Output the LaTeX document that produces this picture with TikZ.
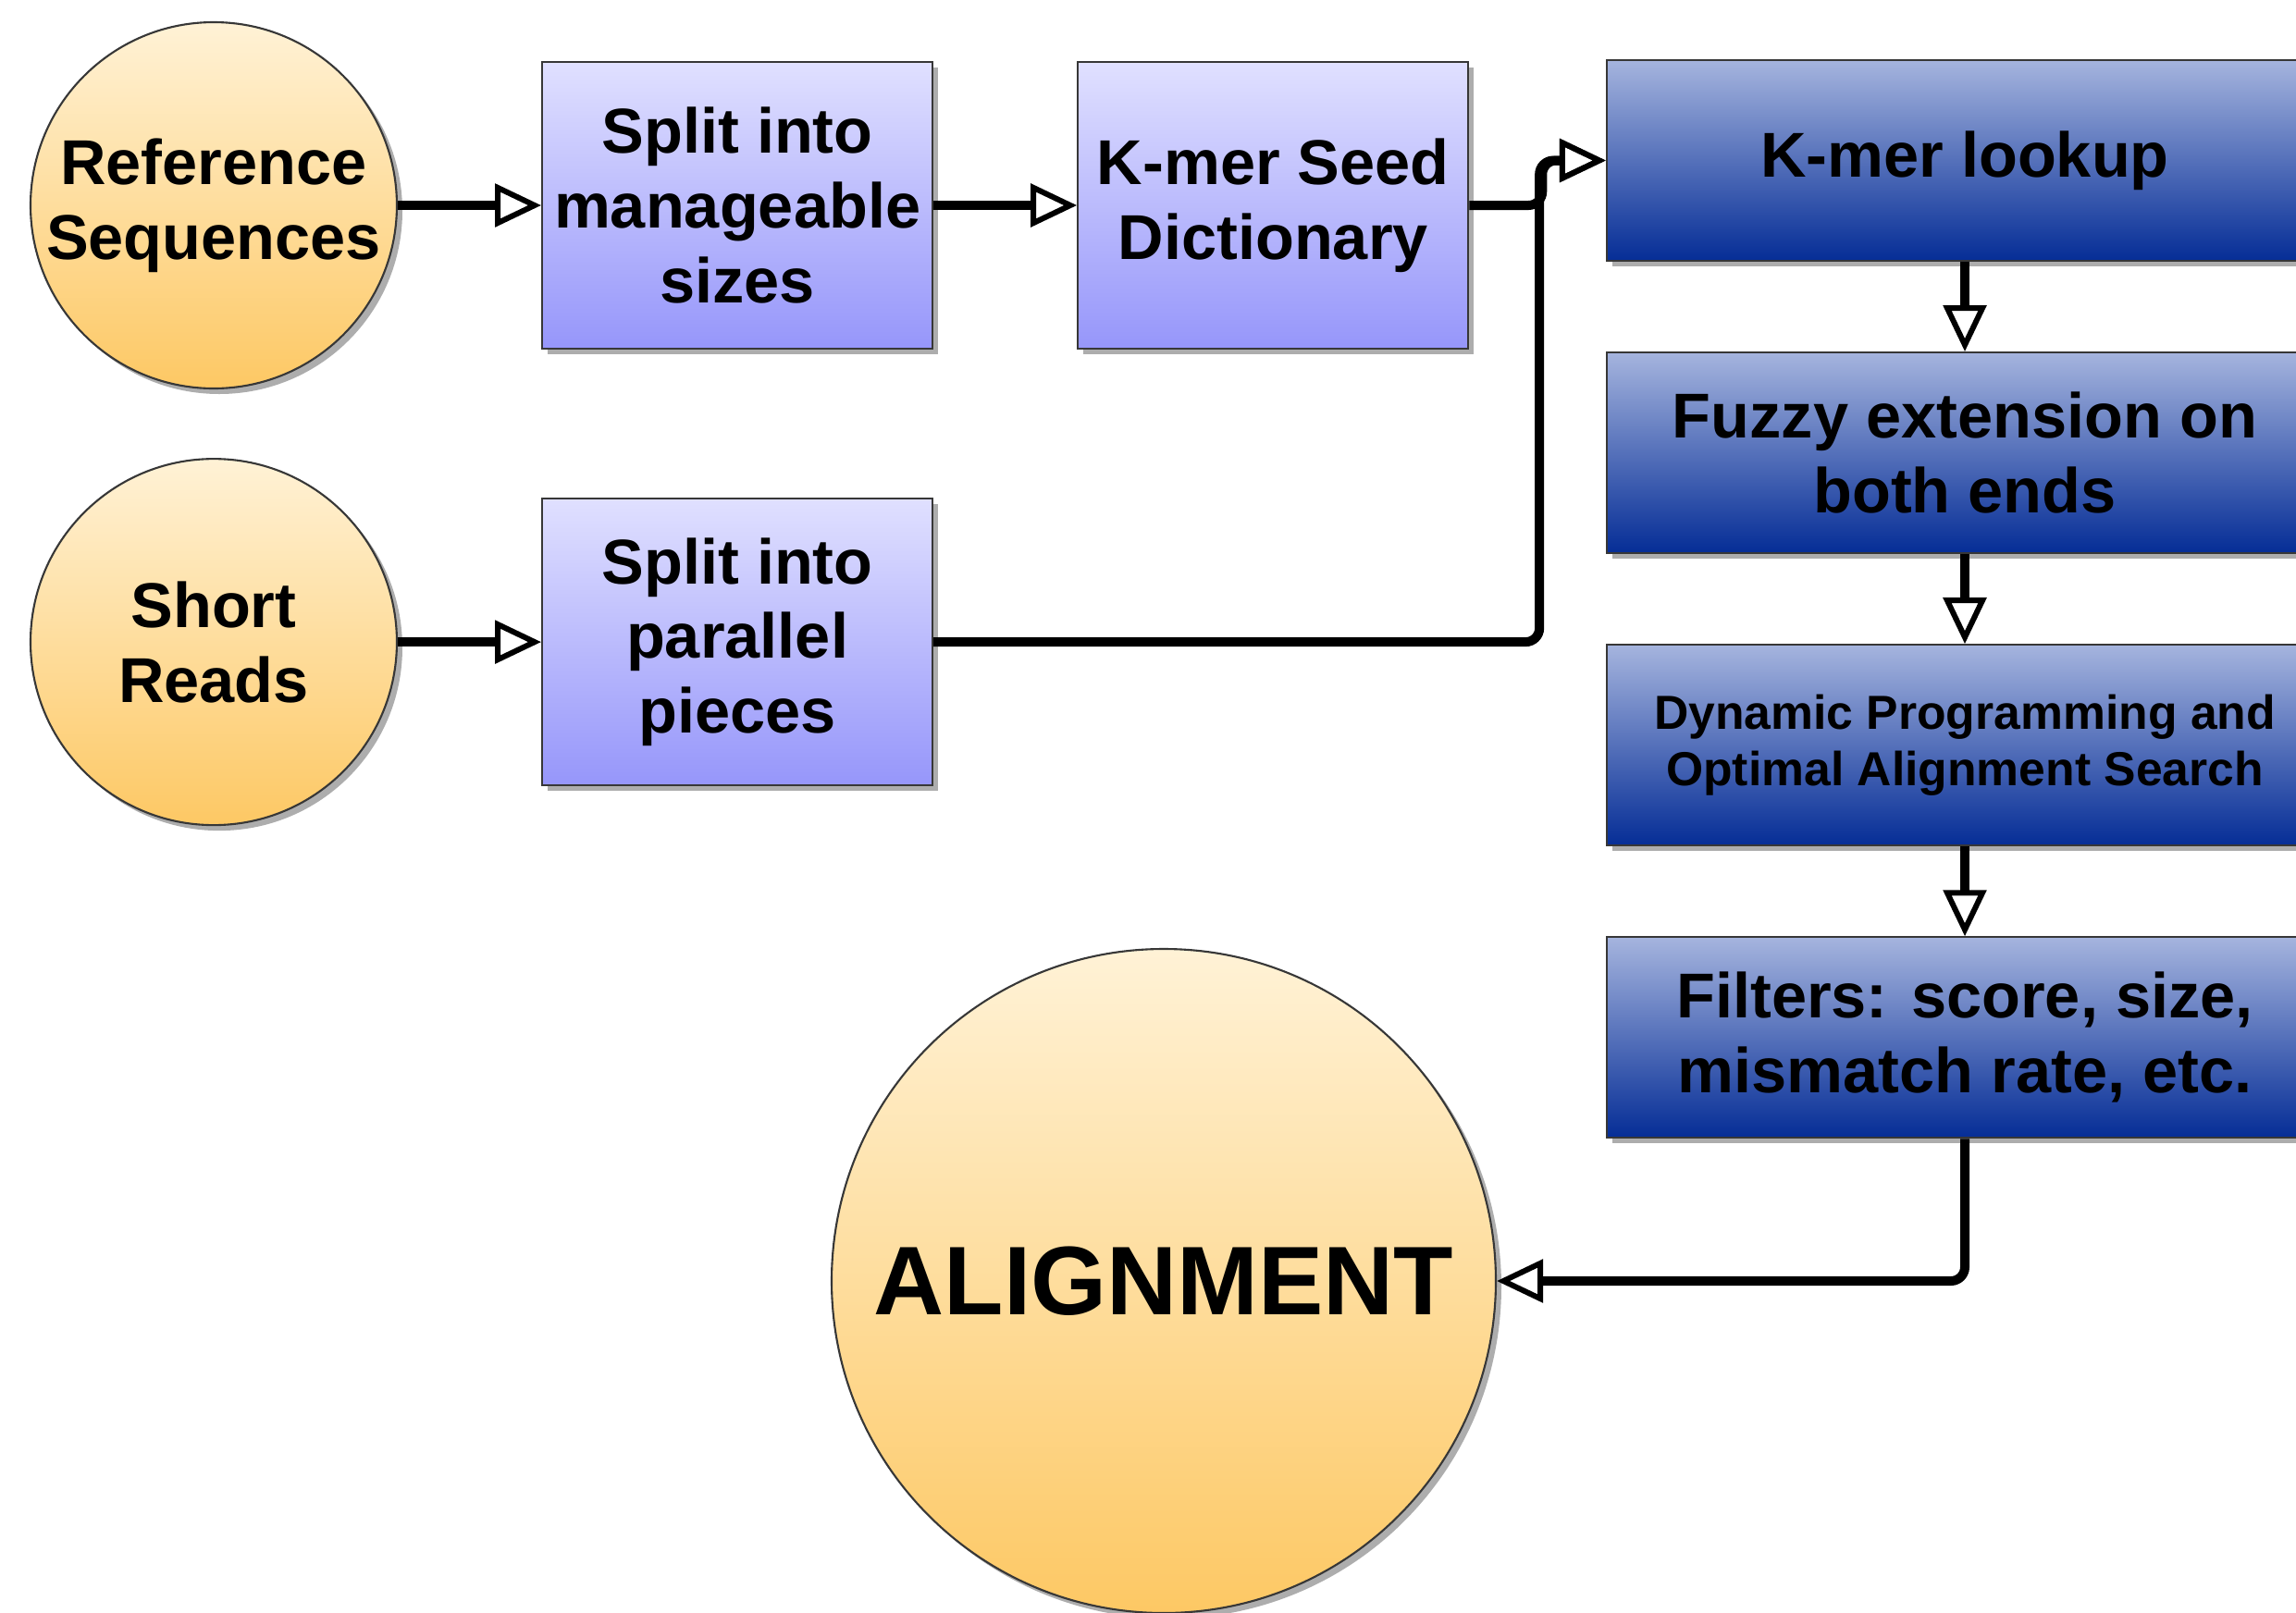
\documentclass[tikz,border=0pt]{standalone}
\usepackage{fontspec}
\setmainfont{Liberation Sans}
\usetikzlibrary{arrows.meta,positioning,shadows}
\definecolor{circtop}{RGB}{255,242,214}
\definecolor{circbot}{RGB}{253,200,100}
\definecolor{preptop}{RGB}{224,224,255}
\definecolor{prepbot}{RGB}{150,150,250}
\definecolor{stagetop}{RGB}{165,180,222}
\definecolor{stagebot}{RGB}{5,45,150}
\definecolor{edgegray}{RGB}{55,55,55}

\begin{document}
\begin{tikzpicture}[
    node distance=1.55cm,
    font=\bfseries\fontsize{19.5}{23}\selectfont,
    boxshadow/.style={drop shadow={shadow xshift=0.06cm,shadow yshift=-0.06cm,fill=black!32,opacity=1}},
    srcnode/.style={circle,draw=edgegray,line width=0.6pt,top color=circtop,bottom color=circbot,minimum size=3.96cm,inner sep=0pt,align=center,boxshadow},
    prepbox/.style={rectangle,draw=edgegray,line width=0.6pt,top color=preptop,bottom color=prepbot,minimum width=4.22cm,minimum height=3.1cm,inner sep=0pt,align=center,boxshadow},
    stagebox/.style={rectangle,draw=edgegray,line width=0.6pt,top color=stagetop,bottom color=stagebot,minimum width=7.74cm,minimum height=2.17cm,inner sep=0pt,align=center,boxshadow},
    arrow/.style={-{Triangle[open,length=0.5cm,width=0.46cm,line width=1.7pt]},line width=0.1cm,rounded corners=0.15cm}
]
\useasboundingbox (0,0) rectangle (24.82,-17.43);

\node[srcnode] (ref) at (2.31,-2.22) {Reference\\Sequences};
\node[prepbox,right=of ref] (split) {Split into\\manageable\\sizes};
\node[prepbox,right=of split] (seed) {K-mer Seed\\Dictionary};
\node[srcnode,below=0.74cm of ref] (reads) {Short\\Reads};
\node[prepbox,right=of reads] (pieces) {Split into\\parallel\\pieces};

\node[stagebox] (lookup) at (21.24,-1.735) {K-mer lookup};
\node[stagebox,below=0.97cm of lookup] (fuzzy) {Fuzzy extension on\\both ends};
\node[stagebox,below=0.97cm of fuzzy,font=\bfseries\fontsize{14.7}{17.6}\selectfont] (dynprog) {Dynamic Programming and\\Optimal Alignment Search};
\node[stagebox,below=0.97cm of dynprog] (filters) {Filters: score, size,\\mismatch rate, etc.};

\node[srcnode,minimum size=7.18cm,font=\bfseries\fontsize{30}{36}\selectfont] (align) at (12.58,-13.85) {ALIGNMENT};

\draw[arrow] (ref) -- (split);
\draw[arrow] (split) -- (seed);
\draw[arrow] (reads) -- (pieces);
\draw[arrow] (seed.east) -- ++(0.79,0) |- (lookup.west);
\draw[arrow] (pieces.east) -- ++(6.55,0) |- (lookup.west);
\draw[arrow] (lookup) -- (fuzzy);
\draw[arrow] (fuzzy) -- (dynprog);
\draw[arrow] (dynprog) -- (filters);
\draw[arrow] (filters) |- (align);
\end{tikzpicture}
\end{document}
